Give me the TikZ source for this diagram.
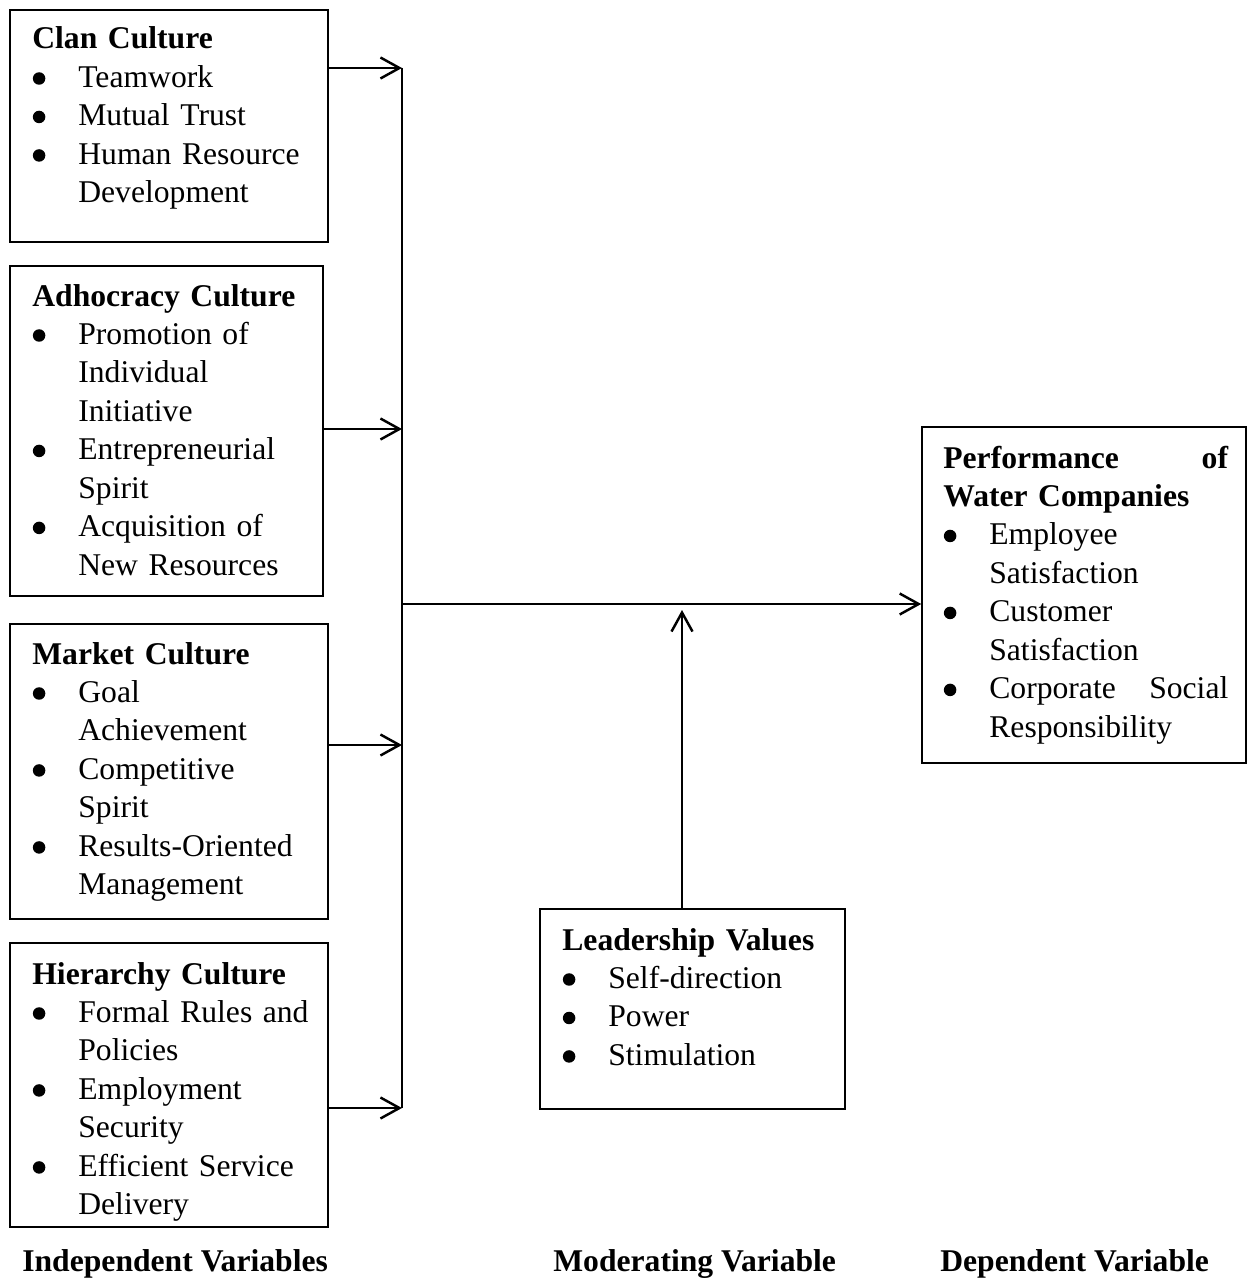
\documentclass[tikz,border=0pt]{standalone}
\usepackage{fontspec}
\setmainfont{Liberation Serif}
\usetikzlibrary{arrows.meta}
\setlength{\parindent}{0pt}
\newcommand{\bul}[1]{\hspace*{0.01cm}\makebox[0.91cm][l]{\tikz[baseline=0pt]{\fill (0.12cm,0.18cm) circle (0.125cm);}}#1}
\newcommand{\cont}[1]{\hspace*{0.92cm}#1}

\begin{document}
\begin{tikzpicture}[
  box/.style={draw, line width=0.9pt, inner sep=0pt},
  boxtext/.style={anchor=base west, inner sep=0pt, text width=#1, font=\fontsize{18}{21.9}\selectfont},
  varlabel/.style={anchor=base west, inner sep=0pt, font=\fontsize{18}{21.9}\selectfont\bfseries},
  link/.style={line width=1.4pt},
  >={Straight Barb[length=0.38cm,width=0.42cm]}]
\useasboundingbox (0,0) rectangle (24.96,-25.72);

\node [box, minimum width=6.36cm, minimum height=4.64cm] (clan) at (3.38,-2.52) {};
\node [box, minimum width=6.26cm, minimum height=6.60cm] (adh) at (3.33,-8.62) {};
\node [box, minimum width=6.36cm, minimum height=5.90cm] (mkt) at (3.38,-15.43) {};
\node [box, minimum width=6.36cm, minimum height=5.68cm] (hier) at (3.38,-21.70) {};
\node [box, minimum width=6.48cm, minimum height=6.72cm] (perf) at (21.68,-11.90) {};
\node [box, minimum width=6.10cm, minimum height=4.00cm] (lead) at (13.85,-20.18) {};

\node [boxtext=5.9cm] (clantxt) at (0.64,-0.98) {\textbf{Clan Culture}\\
  \bul{Teamwork}\\ \bul{Mutual Trust}\\ \bul{Human Resource}\\ \cont{Development}};
\node [boxtext=5.9cm] (adhtxt) at (0.64,-6.12) {\textbf{Adhocracy Culture}\\
  \bul{Promotion of}\\ \cont{Individual}\\ \cont{Initiative}\\
  \bul{Entrepreneurial}\\ \cont{Spirit}\\
  \bul{Acquisition of}\\ \cont{New Resources}};
\node [boxtext=5.9cm] (mkttxt) at (0.64,-13.28) {\textbf{Market Culture}\\
  \bul{Goal}\\ \cont{Achievement}\\
  \bul{Competitive}\\ \cont{Spirit}\\
  \bul{Results-Oriented}\\ \cont{Management}};
\node [boxtext=5.9cm] (hiertxt) at (0.64,-19.68) {\textbf{Hierarchy Culture}\\
  \bul{Formal Rules and}\\ \cont{Policies}\\
  \bul{Employment}\\ \cont{Security}\\
  \bul{Efficient Service}\\ \cont{Delivery}};
\node [boxtext=5.7cm] (perftxt) at (18.86,-9.36) {\textbf{Performance\hfill of}\\
  \textbf{Water Companies}\\
  \bul{Employee}\\ \cont{Satisfaction}\\
  \bul{Customer}\\ \cont{Satisfaction}\\
  \bul{Corporate\hfill Social}\\ \cont{Responsibility}};
\node [boxtext=5.6cm] (leadtxt) at (11.24,-19.00) {\textbf{Leadership Values}\\
  \bul{Self-direction}\\ \bul{Power}\\ \bul{Stimulation}};

\coordinate (bclan) at (8.04,-1.36);
\coordinate (badh) at (8.04,-8.58);
\coordinate (bmid) at (8.04,-12.08);
\coordinate (bmkt) at (8.04,-14.90);
\coordinate (bhier) at (8.04,-22.16);
\coordinate (mod) at (13.64,-12.20);

\draw [link] (bclan) -- (bhier);
\draw [link,->] (clan.east |- bclan) -- (bclan);
\draw [link,->] (adh.east |- badh) -- (badh);
\draw [link,->] (mkt.east |- bmkt) -- (bmkt);
\draw [link,->] (hier.east |- bhier) -- (bhier);
\draw [link,->] (bmid) -- (perf.west |- bmid);
\draw [link,->] (lead.north -| mod) -- (mod);

\node [varlabel] (indep) at (0.44,-25.42) {Independent Variables};
\node [varlabel] (moder) at (11.06,-25.42) {Moderating Variable};
\node [varlabel] (dep) at (18.80,-25.42) {Dependent Variable};
\end{tikzpicture}
\end{document}
